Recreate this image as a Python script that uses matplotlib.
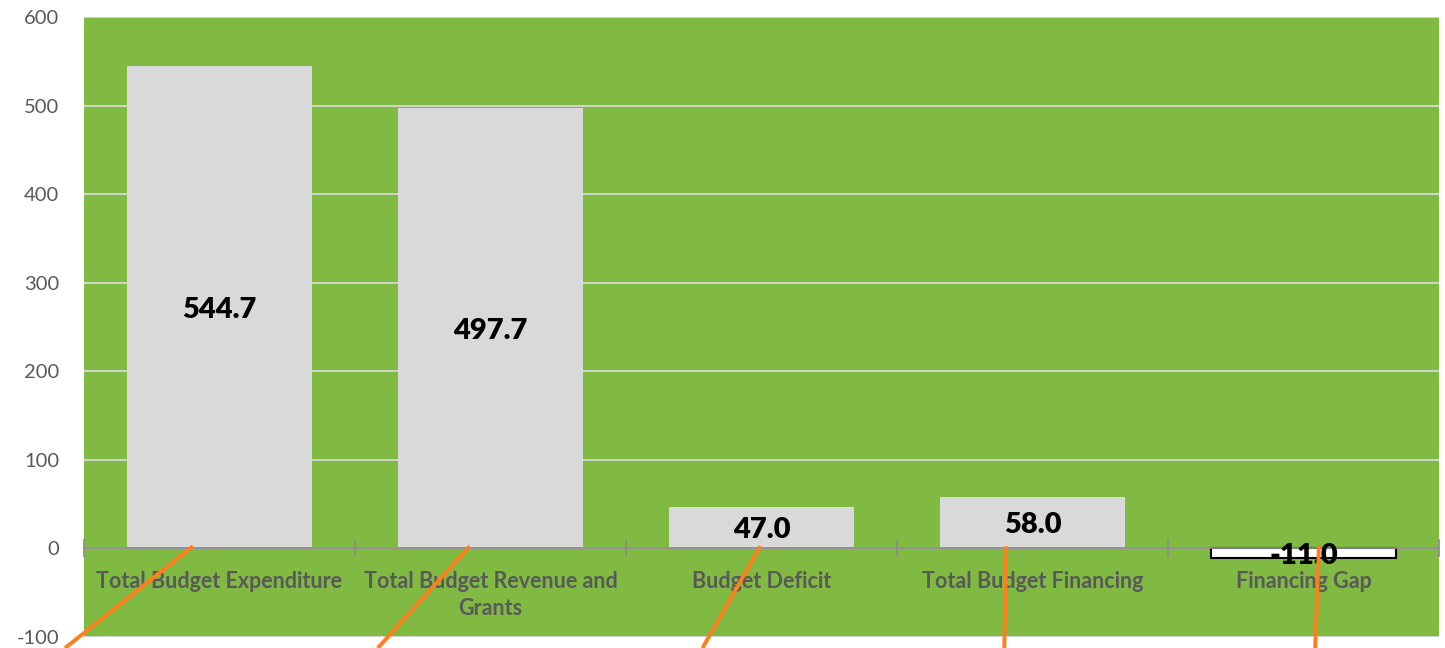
import matplotlib
matplotlib.use("Agg")
import matplotlib.pyplot as plt
import numpy as np

categories = ["Total Budget Expenditure", "Total Budget Revenue and\nGrants",
              "Budget Deficit", "Total Budget Financing", "Financing Gap"]
values = [544.7, 497.7, 47.0, 58.0, -11.0]
value_labels = ["544.7", "497.7", "47.0", "58.0", "-11.0"]
yticks = [-100, 0, 100, 200, 300, 400, 500, 600]

# orange leader lines (start x, start y, end x, end y) in data units
leader_x0 = [-0.098, 0.923, 1.996, 2.903, 4.057]
leader_y0 = [2.5, 2.5, 2.5, 2.5, 3.5]
leader_x1 = [-0.570, 0.584, 1.782, 2.896, 4.043]
leader_y1 = [-112.5, -112.5, -112.5, -112.5, -112.5]

plt.rcParams['font.family'] = ['Lato', 'DejaVu Sans']

fig = plt.figure(figsize=(14.45, 6.48), dpi=100)
ax = fig.add_axes([84/1445, (648-637)/648, (1439-84)/1445, (637-17)/648])
ax.set_facecolor('#80BA42')

for s in ['left', 'right', 'top']:
    ax.spines[s].set_visible(False)
ax.spines['bottom'].set_position(('data', 0))
ax.spines['bottom'].set_color('#8C8C8C')
ax.spines['bottom'].set_linewidth(1.3)
ax.spines['bottom'].set_zorder(4)

x = np.arange(len(categories))
colors = ['#D9D9D9'] * 4 + ['#FFFFFF']
edges = ['none'] * 4 + ['black']
bars = ax.bar(x, values, width=0.686, color=colors, edgecolor=edges,
              linewidth=[0, 0, 0, 0, 1.5], zorder=3)

for xi, v, lab in zip(x, values, value_labels):
    ax.text(xi, v / 2 - 3, lab, ha='center', va='center', fontsize=21,
            fontweight='heavy', color='black', zorder=5)

ax.set_xlim(-0.5, len(categories) - 0.5)
ax.set_ylim(-100, 600)
ax.set_yticks(yticks)
ax.set_yticklabels([str(t) for t in yticks])
ax.tick_params(axis='y', length=0, pad=18, labelsize=14.5, labelcolor='#595959')
ax.yaxis.grid(True, color='#D9D9D9', linewidth=1.3, zorder=0)
ax.set_axisbelow(True)

ax.set_xticks(np.arange(len(categories) + 1) - 0.5, minor=True)
ax.set_xticks(x)
ax.tick_params(axis='x', which='major', length=0, pad=16)
ax.tick_params(axis='x', which='minor', length=13, direction='inout',
               color='#8C8C8C', width=1.2)
ax.set_xticklabels(categories, fontweight='bold', fontsize=15.5,
                   color='#595959', linespacing=1.35)

for a, b, c, d in zip(leader_x0, leader_y0, leader_x1, leader_y1):
    ax.plot([a, c], [b, d], color='#FF7F1E', linewidth=2.8,
            clip_on=False, zorder=6, solid_capstyle='butt')

fig.savefig('out.png', dpi=100)
